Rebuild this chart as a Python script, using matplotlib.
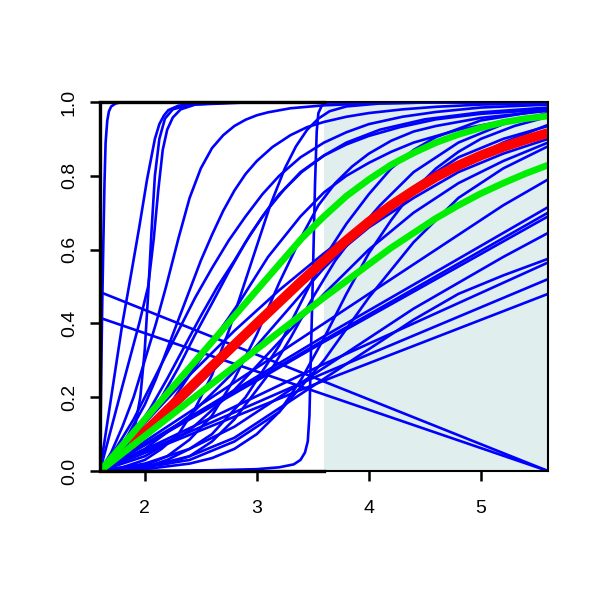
import matplotlib
matplotlib.use("Agg")
import matplotlib.pyplot as plt

plt.rcParams['font.family'] = ['Liberation Sans', 'DejaVu Sans']

# axis ticks
x_ticks = [2, 3, 4, 5]
y_ticks = [0.0, 0.2, 0.4, 0.6, 0.8, 1.0]
y_tick_labels = ["0.0", "0.2", "0.4", "0.6", "0.8", "1.0"]

# shaded interval and black bounds
shade_x = [3.6, 5.6]
bound_x = [1.6, 3.6]

# thick summary curves
red_x = [1.88, 2.2, 2.6, 3.0, 3.4, 3.6, 3.8, 4.0, 4.2, 4.4, 4.6, 4.8, 5.0, 5.2, 5.4, 5.6]
red_y = [0.07, 0.165, 0.284, 0.40, 0.515, 0.57, 0.625, 0.675, 0.72, 0.76, 0.797, 0.828, 0.855, 0.878, 0.898, 0.916]

green_hi_x = [1.6, 2.0, 2.4, 2.8, 3.0, 3.2, 3.4, 3.6, 3.8, 4.0, 4.2, 4.4, 4.6, 4.8, 5.0, 5.2, 5.4, 5.6]
green_hi_y = [0.0, 0.14, 0.28, 0.42, 0.49, 0.56, 0.63, 0.69, 0.745, 0.79, 0.83, 0.862, 0.89, 0.912, 0.93, 0.945, 0.955, 0.962]

green_lo_x = [1.6, 2.0, 2.4, 2.8, 3.2, 3.6, 3.8, 4.0, 4.2, 4.4, 4.6, 4.8, 5.0, 5.2, 5.4, 5.6]
green_lo_y = [0.0, 0.095, 0.19, 0.283, 0.377, 0.47, 0.515, 0.56, 0.605, 0.645, 0.685, 0.72, 0.752, 0.78, 0.806, 0.829]

# blue curves: steep ones on their own x values
steep_curves = [
    ([1.6, 1.61, 1.62, 1.63, 1.64, 1.65, 1.665, 1.68, 1.7, 1.74, 1.8, 5.6],
     [0, 0.25, 0.45, 0.62, 0.78, 0.89, 0.95, 0.975, 0.988, 0.996, 1.0, 1.0]),
    ([1.6, 1.7, 1.8, 1.87, 1.95, 2.02, 2.09, 2.13, 2.17, 2.21, 2.3, 2.5, 3.0, 5.6],
     [0, 0.2, 0.4, 0.52, 0.66, 0.79, 0.9, 0.94, 0.963, 0.978, 0.99, 0.997, 1.0, 1.0]),
    ([1.6, 1.7, 1.8, 1.9, 1.96, 2.0, 2.03, 2.06, 2.09, 2.13, 2.18, 2.25, 2.4, 2.8, 5.6],
     [0, 0.02, 0.05, 0.1, 0.2, 0.33, 0.48, 0.65, 0.8, 0.9, 0.955, 0.98, 0.993, 0.999, 1.0]),
    ([1.6, 1.8, 1.95, 2.03, 2.08, 2.12, 2.16, 2.2, 2.25, 2.32, 2.45, 3.0, 5.6],
     [0, 0.23, 0.4, 0.5, 0.63, 0.76, 0.87, 0.925, 0.958, 0.98, 0.993, 1.0, 1.0]),
    ([1.6, 2.6, 3.0, 3.2, 3.33, 3.39, 3.43, 3.455, 3.47, 3.48, 3.5, 3.52, 3.535, 3.55, 3.58, 3.65, 5.6],
     [0, 0.002, 0.005, 0.01, 0.018, 0.03, 0.05, 0.08, 0.15, 0.28, 0.52, 0.78, 0.92, 0.97, 0.99, 1.0, 1.0]),
]

# blue curves that bend over towards 1
fast_curves = [
    ([1.6, 1.7, 1.8, 1.9, 2.0, 2.1, 2.19, 2.3, 2.4, 2.5, 2.6, 2.7, 2.8, 2.9, 3.0, 3.1, 3.3, 3.6, 4.0, 4.6, 5.6],
     [0, 0.05, 0.12, 0.2, 0.3, 0.4, 0.5, 0.63, 0.74, 0.82, 0.875, 0.91, 0.935, 0.952, 0.964, 0.972, 0.983, 0.991, 0.996, 0.999, 1.0]),
    ([1.6, 1.8, 2.0, 2.1, 2.2, 2.3, 2.4, 2.5, 2.6, 2.7, 2.8, 2.9, 3.0, 3.14, 3.3, 3.45, 3.6, 3.8, 4.0, 4.3, 4.6, 5.0, 5.6],
     [0, 0.07, 0.18, 0.25, 0.33, 0.41, 0.49, 0.57, 0.64, 0.705, 0.76, 0.805, 0.84, 0.878, 0.91, 0.932, 0.946, 0.96, 0.97, 0.98, 0.987, 0.993, 0.997]),
    ([1.6, 1.8, 2.0, 2.15, 2.3, 2.45, 2.61, 2.75, 2.9, 3.05, 3.2, 3.4, 3.6, 3.8, 4.1, 4.5, 5.0, 5.6],
     [0, 0.06, 0.13, 0.2, 0.28, 0.37, 0.46, 0.54, 0.62, 0.69, 0.75, 0.81, 0.855, 0.89, 0.925, 0.953, 0.972, 0.985]),
    ([1.6, 1.8, 2.0, 2.2, 2.4, 2.6, 2.85, 3.1, 3.39, 3.6, 3.8, 4.0, 4.2, 4.4, 4.8, 5.2, 5.6],
     [0, 0.04, 0.1, 0.17, 0.26, 0.35, 0.46, 0.58, 0.69, 0.755, 0.8, 0.835, 0.865, 0.89, 0.925, 0.948, 0.965]),
    ([1.6, 1.8, 2.0, 2.15, 2.3, 2.45, 2.6, 2.75, 2.87, 3.0, 3.12, 3.25, 3.35, 3.45, 3.55, 3.65, 3.8, 4.1, 4.6, 5.6],
     [0, 0.01, 0.03, 0.06, 0.1, 0.17, 0.26, 0.38, 0.49, 0.61, 0.72, 0.82, 0.88, 0.925, 0.955, 0.975, 0.988, 0.996, 0.999, 1.0]),
    ([1.6, 2.0, 2.2, 2.4, 2.6, 2.8, 3.0, 3.2, 3.39, 3.55, 3.7, 3.85, 4.0, 4.2, 4.4, 4.6, 5.0, 5.6],
     [0, 0.015, 0.04, 0.085, 0.15, 0.25, 0.37, 0.51, 0.63, 0.72, 0.78, 0.825, 0.86, 0.895, 0.92, 0.935, 0.957, 0.976]),
    ([1.6, 1.75, 1.9, 2.05, 2.2, 2.35, 2.5, 2.65, 2.8, 2.95, 3.1, 3.25, 3.39, 3.6, 3.8, 4.0, 4.28, 4.6, 5.0, 5.6],
     [0, 0.05, 0.1, 0.17, 0.25, 0.335, 0.42, 0.5, 0.57, 0.645, 0.71, 0.765, 0.81, 0.855, 0.885, 0.908, 0.932, 0.953, 0.968, 0.98]),
    ([1.6, 1.7, 1.8, 1.9, 2.0, 2.15, 2.3, 2.45, 2.6, 2.75, 2.9, 3.05, 3.2, 3.39, 3.6, 3.8, 4.0, 4.3, 4.6, 5.0, 5.6],
     [0, 0.04, 0.09, 0.14, 0.2, 0.29, 0.38, 0.47, 0.55, 0.625, 0.69, 0.75, 0.8, 0.85, 0.89, 0.918, 0.94, 0.96, 0.973, 0.985, 0.993]),
    ([1.6, 2.0, 2.2, 2.4, 2.6, 2.75, 2.9, 3.05, 3.2, 3.35, 3.5, 3.65, 3.8, 4.0, 4.2, 4.4, 4.6, 5.0, 5.6],
     [0, 0.01, 0.03, 0.06, 0.1, 0.15, 0.2, 0.27, 0.34, 0.43, 0.52, 0.6, 0.67, 0.75, 0.82, 0.87, 0.905, 0.95, 0.98]),
    ([1.6, 2.2, 2.4, 2.6, 2.8, 2.95, 3.1, 3.3, 3.5, 3.7, 3.9, 4.1, 4.4, 4.8, 5.2, 5.6],
     [0, 0.02, 0.04, 0.08, 0.14, 0.2, 0.26, 0.36, 0.47, 0.57, 0.65, 0.72, 0.81, 0.89, 0.94, 0.97]),
    ([1.6, 2.0, 2.4, 2.6, 2.8, 3.0, 3.2, 3.4, 3.6, 3.8, 4.0, 4.2, 4.4, 4.6, 4.8, 5.0, 5.3, 5.6],
     [0, 0.005, 0.02, 0.035, 0.06, 0.1, 0.16, 0.25, 0.36, 0.48, 0.59, 0.68, 0.76, 0.82, 0.865, 0.9, 0.935, 0.96]),
]

# slower blue curves, all read at the same x values
mid_x = [1.6, 2.0, 2.4, 2.8, 3.2, 3.6, 4.0, 4.4, 4.8, 5.2, 5.6]
mid_curves = [
    [0, 0.13, 0.26, 0.38, 0.49, 0.59, 0.68, 0.76, 0.83, 0.89, 0.938],
    [0, 0.10, 0.21, 0.33, 0.45, 0.56, 0.66, 0.74, 0.81, 0.86, 0.90],
    [0, 0.04, 0.11, 0.22, 0.35, 0.48, 0.60, 0.70, 0.78, 0.84, 0.89],
    [0, 0.06, 0.15, 0.27, 0.41, 0.55, 0.67, 0.77, 0.85, 0.90, 0.935],
    [0, 0.08, 0.16, 0.24, 0.32, 0.40, 0.48, 0.56, 0.64, 0.72, 0.79],
    [0, 0.01, 0.03, 0.08, 0.16, 0.30, 0.47, 0.62, 0.74, 0.82, 0.88],
    [0, 0.02, 0.06, 0.12, 0.20, 0.28, 0.36, 0.44, 0.51, 0.58, 0.645],
    [0, 0.01, 0.04, 0.09, 0.17, 0.25, 0.33, 0.41, 0.48, 0.53, 0.575],
]

# nearly straight blue lines from the lower left corner
line_x = [1.6, 3.6, 5.6]
line_curves = [
    [0, 0.245, 0.48],
    [0, 0.265, 0.52],
    [0, 0.29, 0.565],
    [0, 0.35, 0.69],
    [0, 0.355, 0.70],
    [0, 0.365, 0.715],
]

# the two falling lines
falling_x = [1.6, 5.6]
falling_curves = [
    [0.485, 0.0],
    [0.415, 0.0],
]

blue = '#0000FF'

fig = plt.figure(figsize=(6, 6), dpi=100)
ax = fig.add_axes([100 / 600, 129 / 600, 448 / 600, 369 / 600])

ax.axvspan(shade_x[0], shade_x[1], color='#E0EEEE', lw=0, zorder=0)

for xs, ys in steep_curves + fast_curves:
    ax.plot(xs, ys, color=blue, lw=1.9, zorder=2)
for ys in mid_curves:
    ax.plot(mid_x, ys, color=blue, lw=1.9, zorder=2)
for ys in line_curves:
    ax.plot(line_x, ys, color=blue, lw=1.9, zorder=2)
for ys in falling_curves:
    ax.plot(falling_x, ys, color=blue, lw=1.9, zorder=2)

ax.plot(red_x, red_y, color='#FF0000', lw=7, zorder=3, solid_capstyle='butt')
ax.plot(green_hi_x, green_hi_y, color='#00EE00', lw=4.8, zorder=4, solid_capstyle='butt')
ax.plot(green_lo_x, green_lo_y, color='#00EE00', lw=4.8, zorder=4, solid_capstyle='butt')

# black bounds on the left part
ax.plot([bound_x[1], bound_x[0], bound_x[0], bound_x[1]], [0, 0, 1, 1],
        color='black', lw=2.4, zorder=5, clip_on=False, solid_joinstyle='miter')

ax.set_xlim(1.6, 5.6)
ax.set_ylim(0, 1)
for s in ax.spines.values():
    s.set_linewidth(1.5)
    s.set_zorder(6)

ax.set_xticks(x_ticks)
ax.set_yticks(y_ticks)
ax.set_yticklabels(y_tick_labels, rotation=90, va='center')
ax.tick_params(direction='out', length=7, width=1.8, labelsize=14)
ax.tick_params(axis='x', pad=14)
ax.tick_params(axis='y', pad=9)

fig.savefig('out.png', dpi=100)
